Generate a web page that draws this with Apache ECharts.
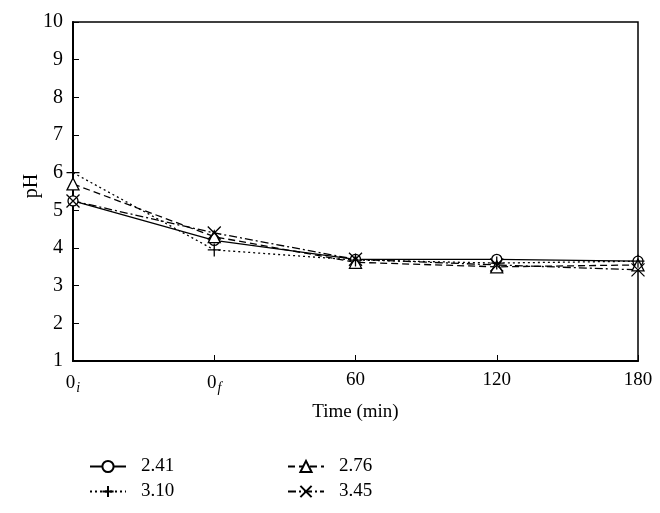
<!DOCTYPE html>
<html><head><meta charset="utf-8">
<script src="https://cdn.jsdelivr.net/npm/echarts@6/dist/echarts.min.js"></script>
<style>html,body{margin:0;padding:0;background:#fff}#c{width:660px;height:513px}</style>
</head><body><div id="c"></div>
<script>
const categories = ['0i', '0f', '60', '120', '180'];
const seriesNames = ['2.41', '2.76', '3.10', '3.45'];
const ph241 = [5.25, 4.2, 3.7, 3.7, 3.65];
const ph276 = [5.7, 4.3, 3.62, 3.5, 3.55];
const ph310 = [6.0, 3.95, 3.68, 3.6, 3.65];
const ph345 = [5.25, 4.4, 3.7, 3.55, 3.42];
const yTicks = {min: 1, max: 10, interval: 1};
const yName = 'pH';

const font = 'Liberation Serif';
const plusPath = 'path://M0,-10L0,10M-10,0L10,0';
const crossPath = 'path://M-10,-10L10,10M-10,10L10,-10';

function mk(name, data, symbol, size, lineType) {
  return {
    name, type: 'line', data, symbol, symbolSize: size,
    lineStyle: {color: '#000', width: 1.3, type: lineType},
    itemStyle: {color: '#fff', borderColor: '#000', borderWidth: 1.3},
    emphasis: {disabled: true}, z: 3
  };
}

const chart = echarts.init(document.getElementById('c'));
chart.setOption({
  animation: false,
  backgroundColor: '#fff',
  grid: {left: 73, right: 22, top: 22, bottom: 152, show: true, borderColor: '#000', borderWidth: 1.5, backgroundColor: 'transparent'},
  graphic: [{
    type: 'text', x: 32, y: 186, rotation: Math.PI / 2,
    style: {text: yName, fontFamily: font, fontSize: 20, fill: '#000', align: 'center', verticalAlign: 'middle'}
  }],
  xAxis: {
    type: 'category', data: categories, boundaryGap: false,
    name: 'Time (min)', nameLocation: 'middle', nameGap: 42,
    nameTextStyle: {fontFamily: font, fontSize: 19, color: '#000'},
    axisLine: {lineStyle: {color: '#000', width: 2}},
    axisTick: {inside: true, length: 6, lineStyle: {color: '#000'}},
    axisLabel: {
      fontFamily: font, fontSize: 19, color: '#000', margin: 10,
      formatter: v => v === '0i' ? '0{s|i}' : v === '0f' ? '0{s|f}' : v,
      rich: {s: {fontFamily: font, fontSize: 14, fontStyle: 'italic', color: '#000', padding: [10, 0, 0, 1]}}
    },
    splitLine: {show: false}
  },
  yAxis: {
    type: 'value', min: yTicks.min, max: yTicks.max, interval: yTicks.interval,
    axisLine: {show: true, lineStyle: {color: '#000', width: 2}},
    axisTick: {show: true, inside: true, length: 6, lineStyle: {color: '#000'}},
    axisLabel: {fontFamily: font, fontSize: 20, color: '#000', margin: 10},
    splitLine: {show: false}
  },
  legend: [
    {left: 84, top: 452, orient: 'vertical', itemGap: 6, itemWidth: 36, itemHeight: 14,
     data: [seriesNames[0], seriesNames[2]],
     textStyle: {fontFamily: font, fontSize: 19, color: '#000', padding: [0, 0, 0, 10]}},
    {left: 282, top: 452, orient: 'vertical', itemGap: 6, itemWidth: 36, itemHeight: 14,
     data: [seriesNames[1], seriesNames[3]],
     textStyle: {fontFamily: font, fontSize: 19, color: '#000', padding: [0, 0, 0, 10]}}
  ],
  series: [
    mk(seriesNames[0], ph241, 'circle', 10, 'solid'),
    mk(seriesNames[1], ph276, 'triangle', 12, [7, 4]),
    mk(seriesNames[2], ph310, plusPath, 13, [2, 3]),
    mk(seriesNames[3], ph345, crossPath, 13, [8, 3, 2, 3])
  ]
});
</script></body></html>
